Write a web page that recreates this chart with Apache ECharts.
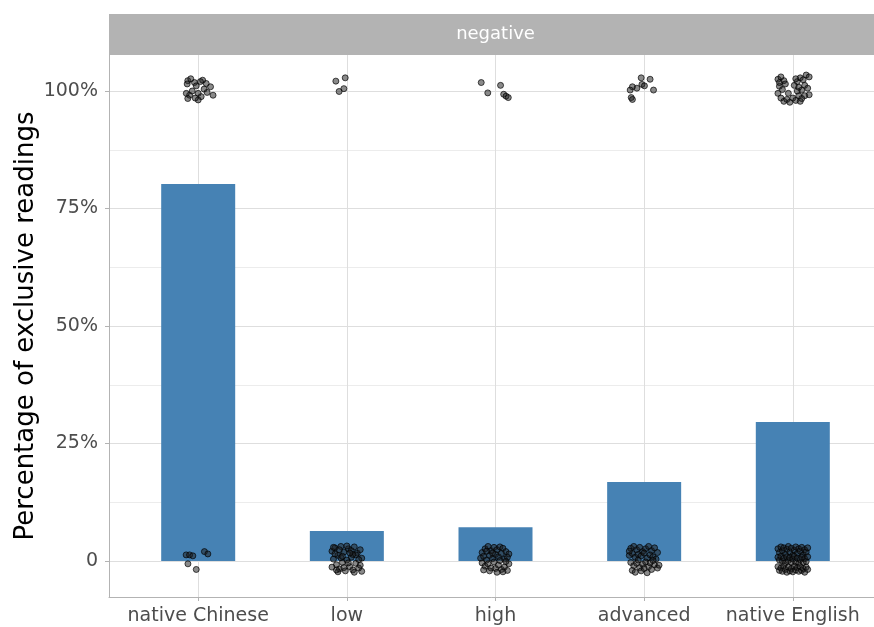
<!DOCTYPE html>
<html>
<head>
<meta charset="utf-8">
<script src="https://cdn.jsdelivr.net/npm/echarts@6/dist/echarts.min.js"></script>
<style>
  html, body { margin: 0; padding: 0; background: #fff; }
  #chart { width: 874px; height: 627px; }
</style>
</head>
<body>
<div id="chart"></div>
<script>
// Proficiency groups (x axis) and the facet label
const categories = ['native Chinese', 'low', 'high', 'advanced', 'native English'];
const facetLabel = 'negative';
const yTickValues = [0, 0.25, 0.5, 0.75, 1];
const yTitle = 'Percentage of exclusive readings';

// Group means (proportion of exclusive readings)
const barValues = [0.802, 0.064, 0.072, 0.168, 0.296];

// Individual responses per group: [horizontal jitter, jittered value]
const nativeChinesePoints = [
  [-0.07, 1.022], [-0.074, 1.015], [-0.025, 1.018], [-0.013, 1.011], [0.03, 1.023],
  [0.054, 1.016], [0.083, 1.009], [-0.058, 0.991], [0.0, 0.995], [0.02, 0.988],
  [0.0, 0.981], [-0.07, 0.984], [0.1, 0.991], [-0.08, 0.995], [0.04, 1.004],
  [-0.04, 1.0], [0.015, 1.02], [-0.02, 0.985], [-0.05, 1.026], [0.06, 0.997],
  [-0.081, 0.013], [-0.058, 0.013], [-0.036, 0.011], [0.042, 0.02], [0.065, 0.015],
  [-0.069, -0.006], [-0.013, -0.018]
];
const lowPoints = [
  [-0.074, 1.021], [-0.011, 1.028], [-0.02, 1.005], [-0.052, 0.999],
  [-0.10, 0.021], [-0.08, 0.028], [-0.06, 0.012], [-0.04, 0.031], [-0.02, 0.019],
  [0.01, 0.026], [0.03, 0.008], [0.05, 0.030], [0.07, 0.017], [0.09, 0.024],
  [0.10, 0.006], [-0.09, 0.004], [-0.07, -0.008], [-0.05, -0.017], [-0.03, -0.003],
  [-0.01, -0.021], [0.02, -0.012], [0.04, -0.019], [0.06, -0.005], [0.08, -0.015],
  [0.10, -0.022], [-0.10, -0.013], [-0.08, 0.015], [-0.04, 0.007], [0.0, 0.002],
  [0.03, 0.022], [0.06, 0.013], [-0.06, -0.023], [-0.02, -0.014], [0.01, -0.004],
  [0.05, -0.024], [0.08, 0.003], [-0.09, 0.029], [0.0, 0.032], [0.04, 0.014],
  [-0.05, 0.024], [0.09, -0.009], [-0.03, 0.010], [0.02, 0.017], [-0.07, -0.019]
];
const highPoints = [
  [-0.096, 1.018], [0.034, 1.012], [-0.052, 0.996], [0.055, 0.993], [0.071, 0.989],
  [0.086, 0.986],
  [-0.09, 0.018], [-0.07, 0.026], [-0.05, 0.031], [-0.03, 0.022], [-0.01, 0.029],
  [0.01, 0.024], [0.03, 0.030], [0.05, 0.027], [0.07, 0.020], [0.09, 0.015],
  [-0.10, 0.006], [-0.08, 0.010], [-0.06, 0.002], [-0.04, 0.012], [-0.02, 0.005],
  [0.0, 0.014], [0.02, 0.009], [0.04, 0.016], [0.06, 0.004], [0.08, 0.008],
  [-0.09, -0.004], [-0.07, -0.011], [-0.05, -0.006], [-0.03, -0.015], [-0.01, -0.002],
  [0.02, -0.009], [0.04, -0.018], [0.06, -0.013], [0.08, -0.020], [0.09, -0.006],
  [-0.08, -0.019], [-0.04, -0.021], [0.0, -0.016], [0.05, -0.023], [0.07, -0.001],
  [-0.06, 0.021], [0.03, 0.001], [-0.02, 0.017], [0.01, -0.024]
];
const advancedPoints = [
  [-0.02, 1.028], [0.04, 1.025], [-0.015, 1.014], [0.002, 1.011], [-0.049, 1.006],
  [-0.079, 1.009], [-0.094, 1.002], [0.063, 1.002], [-0.087, 0.986], [-0.079, 0.982],
  [-0.09, 0.027], [-0.07, 0.031], [-0.05, 0.024], [-0.03, 0.029], [-0.01, 0.020],
  [0.01, 0.026], [0.03, 0.031], [0.05, 0.022], [0.07, 0.028], [0.09, 0.018],
  [-0.10, 0.012], [-0.08, 0.016], [-0.06, 0.008], [-0.04, 0.014], [-0.02, 0.011],
  [0.0, 0.017], [0.02, 0.006], [0.04, 0.013], [0.06, 0.009], [0.08, 0.004],
  [-0.09, -0.003], [-0.07, -0.010], [-0.05, -0.005], [-0.03, -0.014], [-0.01, -0.007],
  [0.01, -0.002], [0.03, -0.012], [0.05, -0.018], [0.07, -0.008], [0.09, -0.015],
  [-0.08, -0.020], [-0.06, -0.024], [-0.02, -0.021], [0.0, -0.016], [0.02, -0.025],
  [0.04, -0.004], [0.06, 0.001], [-0.04, 0.002], [0.10, -0.009], [-0.10, 0.021]
];
const nativeEnglishPoints = [
  [-0.10, 1.025], [-0.08, 1.030], [-0.06, 1.022], [-0.09, 1.010], [-0.07, 1.003],
  [-0.10, 0.995], [-0.08, 0.985], [-0.06, 0.978], [-0.04, 0.982], [-0.02, 0.976],
  [0.0, 0.985], [0.02, 0.980], [0.04, 0.990], [0.05, 0.978], [0.03, 1.0],
  [0.01, 1.012], [0.03, 1.020], [0.05, 1.028], [0.07, 1.024], [0.09, 1.034],
  [0.11, 1.030], [0.08, 1.012], [0.10, 1.006], [0.06, 1.002], [0.11, 0.992],
  [0.08, 0.990], [-0.05, 1.015], [-0.03, 0.995], [0.02, 1.026], [0.04, 1.008],
  [-0.09, 1.018], [0.06, 0.984],
  [-0.10, 0.026], [-0.09, 0.018], [-0.08, 0.030], [-0.07, 0.022], [-0.06, 0.028],
  [-0.05, 0.014], [-0.04, 0.025], [-0.03, 0.031], [-0.02, 0.019], [-0.01, 0.027],
  [0.0, 0.012], [0.01, 0.023], [0.02, 0.030], [0.03, 0.016], [0.04, 0.026],
  [0.05, 0.021], [0.06, 0.029], [0.07, 0.013], [0.08, 0.024], [0.09, 0.019],
  [0.10, 0.028], [-0.10, 0.008], [-0.09, 0.002], [-0.08, 0.010], [-0.07, -0.001],
  [-0.06, 0.006], [-0.05, -0.004], [-0.04, 0.009], [-0.03, 0.001], [-0.02, 0.007],
  [-0.01, -0.003], [0.0, 0.004], [0.01, 0.010], [0.02, -0.002], [0.03, 0.006],
  [0.04, -0.005], [0.05, 0.003], [0.06, 0.008], [0.07, -0.003], [0.08, 0.005],
  [0.09, -0.001], [0.10, 0.009], [-0.10, -0.012], [-0.09, -0.020], [-0.08, -0.015],
  [-0.07, -0.022], [-0.06, -0.010], [-0.05, -0.018], [-0.04, -0.024], [-0.03, -0.013],
  [-0.02, -0.021], [-0.01, -0.016], [0.0, -0.023], [0.01, -0.011], [0.02, -0.019],
  [0.03, -0.014], [0.04, -0.022], [0.05, -0.012], [0.06, -0.020], [0.07, -0.016],
  [0.08, -0.024], [0.09, -0.013], [0.10, -0.018]
];
const groupPoints = [nativeChinesePoints, lowPoints, highPoints, advancedPoints, nativeEnglishPoints];

// ---- layout (pixels) ----
const FONT = 'DejaVu Sans';
const PANEL_LEFT = 109, PANEL_WIDTH = 773, PANEL_TOP = 55, PANEL_BOTTOM = 30;
const UNIT = PANEL_WIDTH / (categories.length + 0.2); // one category step
const DATA_TOP = 91, DATA_BOTTOM = 66;                // rows for values 1 and 0

const scatterData = [];
groupPoints.forEach(function (pts, gi) {
  pts.forEach(function (p) { scatterData.push([gi + p[0], p[1]]); });
});
const barData = barValues.map(function (v, i) { return [i, v]; });

const chart = echarts.init(document.getElementById('chart'), null, { renderer: 'canvas' });

const frameLine = { show: true, lineStyle: { color: '#b3b3b3', width: 1 } };

chart.setOption({
  animation: false,
  backgroundColor: '#ffffff',
  grid: [
    // panel frame (left and bottom edges)
    { left: PANEL_LEFT, width: PANEL_WIDTH, top: PANEL_TOP, bottom: PANEL_BOTTOM,
      outerBoundsMode: 'none', containLabel: false },
    // category positions (first to last category)
    { left: PANEL_LEFT + 0.6 * UNIT, width: (categories.length - 1) * UNIT,
      top: PANEL_TOP, bottom: PANEL_BOTTOM, outerBoundsMode: 'none', containLabel: false },
    // data area: 0 .. 1 mapped to value rows
    { left: PANEL_LEFT, width: PANEL_WIDTH, top: DATA_TOP, bottom: DATA_BOTTOM,
      outerBoundsMode: 'none', containLabel: false }
  ],
  xAxis: [
    { gridIndex: 0, type: 'value', min: 0, max: 1, position: 'bottom',
      axisLine: frameLine, axisTick: { show: false }, axisLabel: { show: false },
      splitLine: { show: false } },
    { gridIndex: 1, type: 'category', data: categories, boundaryGap: false,
      axisLine: { show: false },
      axisTick: { show: true, interval: 0, length: 4, lineStyle: { color: '#b3b3b3', width: 1 } },
      axisLabel: { interval: 0, color: '#4d4d4d', fontSize: 19, fontFamily: FONT, margin: 10,
        hideOverlap: false },
      splitLine: { show: true, interval: 0, lineStyle: { color: '#dedede', width: 1 } } },
    { gridIndex: 2, type: 'value', show: false, min: -0.6, max: categories.length - 0.4 }
  ],
  yAxis: [
    { gridIndex: 0, type: 'value', min: 0, max: 1, position: 'left',
      axisLine: frameLine, axisTick: { show: false }, axisLabel: { show: false },
      splitLine: { show: false } },
    { gridIndex: 1, type: 'value', show: false, min: 0, max: 1 },
    // major / minor horizontal grid lines
    { gridIndex: 2, type: 'value', position: 'left', min: 0, max: 1, interval: 0.125,
      axisLine: { show: false }, axisTick: { show: false }, axisLabel: { show: false },
      splitLine: { show: true, lineStyle: { color: ['#dedede', '#ececec'], width: 1 } } },
    // tick labels and axis title
    { gridIndex: 2, type: 'value', position: 'left', offset: 0, min: 0, max: 1, interval: 0.25,
      axisLine: { show: false },
      splitLine: { show: false },
      axisTick: { show: true, length: 4, lineStyle: { color: '#b3b3b3', width: 1 } },
      axisLabel: { color: '#4d4d4d', fontSize: 19, fontFamily: FONT, margin: 11,
        formatter: function (v) { return v === 0 ? '0' : Math.round(v * 100) + '%'; } },
      name: yTitle, nameLocation: 'middle', nameRotate: 90, nameGap: 70,
      nameMoveOverlap: false,
      nameTextStyle: { color: '#000000', fontSize: 26, fontFamily: FONT } }
  ],
  series: [
    { type: 'bar', xAxisIndex: 2, yAxisIndex: 3, data: barData, barWidth: 74,
      itemStyle: { color: '#4682b4' }, z: 2, silent: true },
    { type: 'scatter', xAxisIndex: 2, yAxisIndex: 3, data: scatterData, clip: false,
      symbol: 'circle', symbolSize: 6, z: 3, silent: true,
      itemStyle: { color: 'rgba(30,30,30,0.65)', borderColor: 'rgba(0,0,0,0.85)', borderWidth: 1 } }
  ],
  graphic: [
    { type: 'rect', shape: { x: PANEL_LEFT, y: 14, width: PANEL_WIDTH, height: PANEL_TOP - 14 },
      style: { fill: '#b3b3b3' }, silent: true },
    { type: 'text', x: PANEL_LEFT + PANEL_WIDTH / 2, y: (14 + PANEL_TOP) / 2,
      style: { text: facetLabel, fill: '#ffffff', fontSize: 18, fontFamily: FONT,
        align: 'center', verticalAlign: 'middle' }, silent: true }
  ]
});
</script>
</body>
</html>
